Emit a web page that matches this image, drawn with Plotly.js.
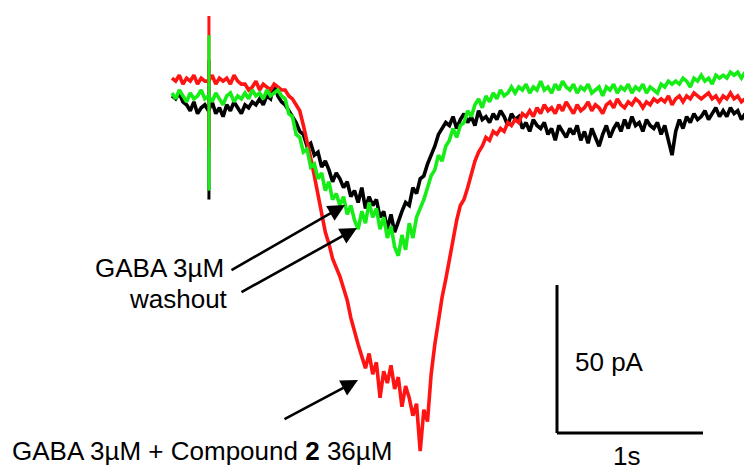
<!DOCTYPE html>
<html>
<head>
<meta charset="utf-8">
<script src="https://cdn.plot.ly/plotly-3.0.1.min.js"></script>
<style>html,body{margin:0;padding:0;background:#fff;}#chart{width:744px;height:472px;}</style>
</head>
<body>
<div id="chart"></div>
<script>
// Sampling of the traces (s)
const sampleStart = 0;
const sampleStep = 0.025;

// Current traces (pA)
const gabaWashout = [ // black
  -2,-3,-1,-4,
  -5,-7,-4,-8,-6,-5,-7,-4,-8,-6,-9,-5,-7,-4,-6,-8,-5,
  -6,-4,-5,-3,-5,-2,-3,2,
  -2,-4,-5,
  -7,-9,-11,-14,
  -15,-19,-18,
  -22,-21,-26,-24,
  -27,-31,-28,-30,
  -33,-31,-36,-34,
  -38,-33,
  -40,-36,-39,
  -37,-43,-41,-47,
  -42,-48,-44,
  -41,-38,
  -39,-33,
  -35,-30,
  -29,-25,-22,
  -19,-15,
  -13,-11,
  -12,-9,-13,-10,
  -8,-11,-9,-12,-7,-10,-9,
  -11,-8,-10,-7,-9,-12,-8,
  -10,-9,-13,-11,-14,-10,-12,-13,
  -11,-15,-13,-17,-12,-14,-16,-13,
  -15,-12,-17,-14,-18,-13,-16,-19,-15,
  -12,-16,-13,-11,-14,
  -10,-13,-9,-12,-11,-14,-10,-12,
  -13,-11,-15,-12,-17,-22,
  -14,-10,-13,-9,-11,-8,-10,
  -9,-7,-10,-8,-6,-9,
  -7,-9,-6,-8,-7,-10,-8
];
const gabaCompound2 = [ // red
  4,3,5,2,4,3,5,2,4,3,
  3,5,2,4,3,4,2,5,3,2,
  2,0,1,3,0,2,1,0,2,1,0,
  0,-2,-3,-5,-7,
  -12,-17,-23,
  -29,-35,
  -42,-48,
  -52,-57,-60,-63,
  -67,-71,
  -77,-82,
  -86,-90,
  -94,-89,-96,-92,-104,-95,-99,-93,-101,-97,-107,-100,-104,-110,-106,-122,-108,-112,
  -96,-86,-78,-70,-64,-57,-50,-44,-39,-37,-33,-28,-24,-21,-19,-16,-17,-14,-15,-13,
  -14,-11,-12,-10,-11,-8,-9,-7,-9,-6,-8,
  -5,-7,-6,-8,-5,-7,-4,-6,-8,-5,-7,-6,-4,-7,-5,-6,-8,
  -5,-4,-6,-3,-5,-6,-4,-5,-3,-4,-6,-4,-5,-3,-4,
  -3,-4,-2,-5,-3,-2,-4,-2,-3,-1,-2,
  -3,-2,-1,-3,-2,-4,-2,-3,-1,-3,-2,-4,-3
];
const gabaAlone = [ // green
  -1,-3,0,-2,-4,-1,-3,-2,0,-3,
  -2,-4,-1,-3,-5,-2,-1,-4,-2,-3,
  -1,-3,0,-2,-1,-3,0,-2,-1,0,-2,
  -3,-8,-9,-15,-16,
  -21,-20,-26,
  -25,-30,-28,-34,
  -31,-37,-35,-39,
  -36,-42,-39,-44,
  -47,-41,
  -45,-38,-43,
  -40,-47,-43,-50,
  -46,-53,-56,
  -49,-54,
  -45,-50,-43,-40,
  -37,-33,-29,
  -27,-22,-24,-19,
  -17,-13,-16,-12,
  -11,-7,-9,
  -5,-3,-6,-2,
  -4,-1,-3,0,-2,-1,1,
  -1,1,0,2,-1,1,0,3,0,1,-1,2,0,3,1,0,
  2,-1,1,0,2,-1,0,1,-2,1,0,2,-1,
  1,0,2,-1,1,0,2,-1,1,0,-1,
  2,1,3,2,
  3,2,4,3,1,4,3,5,3,4,2,5,4,
  5,4,6,5,6,4,6
];

// Stimulus artifact (time, s; top and bottom, pA)
const artifactTime = 0.253;
const artifactWashout = [10, -37];
const artifactCompound2 = [25, -20];
const artifactAlone = [18.5, -34];

// Scale bar
const scaleBarOrigin = [2.637, -115.9];
const scaleBarTime = 1;      // s
const scaleBarCurrent = 50;  // pA

const labels = {
  washout: "washout",
  gaba: "GABA 3µM",
  compound: "GABA 3µM + Compound <b>2</b> 36µM",
  current: "50 pA",
  time: "1s"
};

const W = 744, H = 472;
const xRange = [-172/146, 572/146];
const yRange = [(90-472)/2.96, 90/2.96];
const px = x => xRange[0] + x/W*(xRange[1]-xRange[0]);
const py = y => yRange[1] - y/H*(yRange[1]-yRange[0]);

const colBlack = '#000000', colRed = '#ff1414', colGreen = '#16ec16';
function trace(y, color) {
  return {type:'scatter', mode:'lines', x0:sampleStart, dx:sampleStep, y:y,
    line:{color:color, width:3.6}, hoverinfo:'skip'};
}
function spike(v, color) {
  return {type:'scatter', mode:'lines', x:[artifactTime, artifactTime], y:v,
    line:{color:color, width:3}, hoverinfo:'skip'};
}
const data = [
  trace(gabaWashout, colBlack), spike(artifactWashout, colBlack),
  trace(gabaCompound2, colRed), spike(artifactCompound2, colRed),
  trace(gabaAlone, colGreen), spike(artifactAlone, colGreen)
];

const font = {family:'"Liberation Sans", Arial, sans-serif', size:26, color:'#000'};
function txt(text, x, y, xanchor) {
  return {text:text, x:px(x), y:py(y), xref:'x', yref:'y', xanchor:xanchor, yanchor:'middle',
    showarrow:false, font:font};
}
function arrow(hx, hy, tx, ty) {
  return {text:'', x:px(hx), y:py(hy), xref:'x', yref:'y', ax:tx-hx, ay:ty-hy,
    showarrow:true, arrowhead:2, arrowsize:1.3, arrowwidth:2.6, arrowcolor:'#000', standoff:0};
}

const layout = {
  width:W, height:H, margin:{l:0,r:0,t:0,b:0},
  paper_bgcolor:'#fff', plot_bgcolor:'#fff', showlegend:false,
  xaxis:{range:xRange, visible:false, fixedrange:true},
  yaxis:{range:yRange, visible:false, fixedrange:true},
  shapes:[
    {type:'line', xref:'x', yref:'y', x0:scaleBarOrigin[0], y0:scaleBarOrigin[1],
     x1:scaleBarOrigin[0], y1:scaleBarOrigin[1]+scaleBarCurrent, line:{color:'#000', width:3}},
    {type:'line', xref:'x', yref:'y', x0:scaleBarOrigin[0], y0:scaleBarOrigin[1],
     x1:scaleBarOrigin[0]+scaleBarTime, y1:scaleBarOrigin[1], line:{color:'#000', width:3}}
  ],
  annotations:[
    txt(labels.gaba, 226, 268, 'right'),
    txt(labels.washout, 230, 299, 'right'),
    txt(labels.compound, 10, 451, 'left'),
    txt(labels.current, 573, 362, 'left'),
    txt(labels.time, 611, 456, 'left'),
    arrow(345, 205, 230, 271),
    arrow(357, 228, 240, 293),
    arrow(358, 380, 283, 420)
  ]
};

Plotly.newPlot('chart', data, layout, {displayModeBar:false, staticPlot:true});
</script>
</body>
</html>
